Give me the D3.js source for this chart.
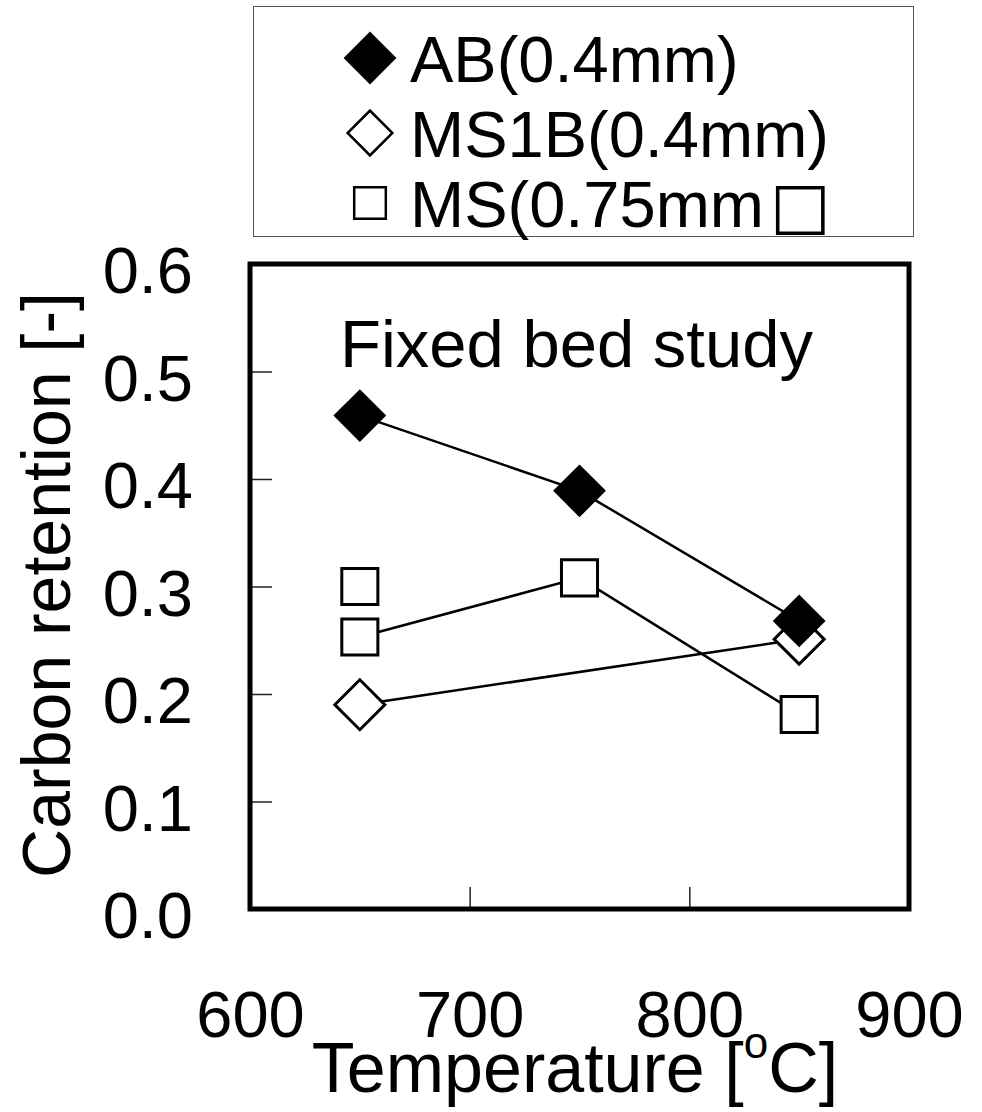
<!DOCTYPE html>
<html>
<head>
<meta charset="utf-8">
<script src="https://cdn.jsdelivr.net/npm/d3@7"></script>
<style>
  body { margin: 0; background: #fff; }
  text { font-family: "Liberation Sans", Arial, sans-serif; fill: #000; }
</style>
</head>
<body>
<div class="chart"></div>
<script>
// data
const temps = [650, 750, 850];
const abValues = [0.459, 0.389, 0.268];
const ms1bTemps = [650, 850];
const ms1bValues = [0.19, 0.251];
const msValues = [0.253, 0.308, 0.181];
const msExtraTemps = [650];
const msExtraValues = [0.30];
const xTicks = [600, 700, 800, 900];
const yTicks = [0, 0.1, 0.2, 0.3, 0.4, 0.5, 0.6];
const legendNames = ["AB(0.4mm)", "MS1B(0.4mm)", "MS(0.75mm"];

const width = 982, height = 1112;
const plot = {left: 250, right: 909, top: 264, bottom: 909};

const svg = d3.select('.chart')
    .append('svg')
    .attr('width', width)
    .attr('height', height);

const xScale = d3.scaleLinear()
    .domain([600, 900])
    .range([plot.left, plot.right]);

const yScale = d3.scaleLinear()
    .domain([0, 0.6])
    .range([plot.bottom, plot.top]);

const xAxis = d3.axisBottom(xScale)
    .tickValues(xTicks)
    .tickSize(-22)
    .tickPadding(82)
    .tickFormat(d3.format("d"));

const yAxis = d3.axisLeft(yScale)
    .tickValues(yTicks)
    .tickSize(-22)
    .tickPadding(57)
    .tickFormat(d3.format(".1f"));

const gx = svg.append("g")
    .attr("transform", "translate(0," + plot.bottom + ")")
    .call(xAxis);
const gy = svg.append("g")
    .attr("transform", "translate(" + plot.left + ",0)")
    .call(yAxis);

[gx, gy].forEach(g => {
    g.select(".domain").remove();
    g.selectAll(".tick line").attr("stroke", "#222").attr("stroke-width", 1.5);
    g.selectAll(".tick text")
        .attr("font-size", 65)
        .attr("font-family", "'Liberation Sans', Arial, sans-serif")
        .attr("fill", "#000");
});
gy.selectAll(".tick text").attr("dy", "0.44em");

// plot frame
svg.append("rect")
    .attr("x", plot.left)
    .attr("y", plot.top)
    .attr("width", plot.right - plot.left)
    .attr("height", plot.bottom - plot.top)
    .attr("fill", "none")
    .attr("stroke", "#000")
    .attr("stroke-width", 5);

// lines
const line = d3.line()
    .x(d => xScale(d[0]))
    .y(d => yScale(d[1]));

const abData = temps.map((t, i) => [t, abValues[i]]);
const ms1bData = ms1bTemps.map((t, i) => [t, ms1bValues[i]]);
const msData = temps.map((t, i) => [t, msValues[i]]);
const msExtra = msExtraTemps.map((t, i) => [t, msExtraValues[i]]);

[ms1bData, msData, abData].forEach(series => {
    svg.append("path")
        .datum(series)
        .attr("d", line)
        .attr("fill", "none")
        .attr("stroke", "#000")
        .attr("stroke-width", 2.5);
});

const diamond = d3.symbol().type(d3.symbolSquare).size(1250);
const square = d3.symbol().type(d3.symbolSquare).size(1300);

// markers
svg.selectAll(".ms")
    .data(msData.concat(msExtra))
    .enter()
    .append("path")
    .attr("d", square)
    .attr("transform", d => "translate(" + xScale(d[0]) + "," + yScale(d[1]) + ")")
    .attr("fill", "#fff")
    .attr("stroke", "#000")
    .attr("stroke-width", 3);

svg.selectAll(".ms1b")
    .data(ms1bData)
    .enter()
    .append("path")
    .attr("d", diamond)
    .attr("transform", d => "translate(" + xScale(d[0]) + "," + yScale(d[1]) + ") rotate(45)")
    .attr("fill", "#fff")
    .attr("stroke", "#000")
    .attr("stroke-width", 3);

svg.selectAll(".ab")
    .data(abData)
    .enter()
    .append("path")
    .attr("d", diamond)
    .attr("transform", d => "translate(" + xScale(d[0]) + "," + yScale(d[1]) + ") rotate(45)")
    .attr("fill", "#000")
    .attr("stroke", "#000")
    .attr("stroke-width", 2);

// annotation
svg.append("text")
    .attr("x", 340)
    .attr("y", 367)
    .attr("font-size", 67)
    .text("Fixed bed study");

// axis titles
svg.append("text")
    .attr("text-anchor", "middle")
    .attr("transform", "translate(70,585) rotate(-90)")
    .attr("font-size", 68)
    .text("Carbon retention [-]");

const xt = svg.append("text")
    .attr("x", 575)
    .attr("y", 1092)
    .attr("text-anchor", "middle")
    .attr("font-size", 70);
xt.append("tspan").text("Temperature [");
xt.append("tspan").attr("font-size", 44).attr("dy", -34).text("o");
xt.append("tspan").attr("dy", 34).text("C]");

// legend
svg.append("rect")
    .attr("x", 253.5)
    .attr("y", 6.5)
    .attr("width", 660)
    .attr("height", 230)
    .attr("fill", "#fff")
    .attr("stroke", "#555")
    .attr("stroke-width", 1);

const legendY = [58, 133, 203];
const legendStyles = [
    {shape: diamond, rot: 45, fill: "#000", sw: 2},
    {shape: d3.symbol().type(d3.symbolSquare).size(1000), rot: 45, fill: "#fff", sw: 2.5},
    {shape: d3.symbol().type(d3.symbolSquare).size(1000), rot: 0, fill: "#fff", sw: 2.5}
];

svg.selectAll(".legend-mark")
    .data(legendNames)
    .enter()
    .append("path")
    .attr("d", (d, i) => legendStyles[i].shape())
    .attr("transform", (d, i) => "translate(370," + legendY[i] + ") rotate(" + legendStyles[i].rot + ")")
    .attr("fill", (d, i) => legendStyles[i].fill)
    .attr("stroke", "#000")
    .attr("stroke-width", (d, i) => legendStyles[i].sw);

const legendText = svg.selectAll(".legend-text")
    .data(legendNames)
    .enter()
    .append("text")
    .attr("x", 410)
    .attr("y", (d, i) => legendY[i] + 24)
    .attr("font-size", 65)
    .text(d => d);

// the closing bracket of the last entry shows as a box glyph
const lastText = legendText.filter((d, i) => i === 2);
lastText.append("tspan")
    .attr("font-family", "'DejaVu Sans', sans-serif")
    .attr("font-size", 64)
    .attr("dx", 6)
    .text("\u25A1");
</script>
</body>
</html>
